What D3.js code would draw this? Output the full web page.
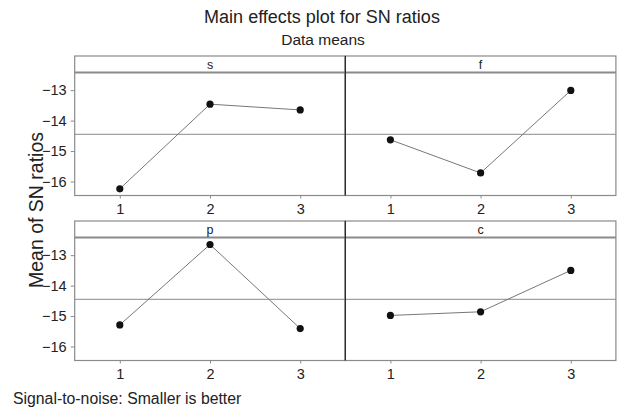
<!DOCTYPE html>
<html>
<head>
<meta charset="utf-8">
<script src="https://cdn.jsdelivr.net/npm/d3@7"></script>
<style>
  body { margin: 0; background: #fff; }
  text { font-family: "Liberation Sans", Arial, Helvetica, sans-serif; fill: #222; }
</style>
</head>
<body>
<div id="chart"></div>
<script>
// factor names and their levels
var factors = ["s", "f", "p", "c"];
var levels = [1, 2, 3];

// mean SN ratio for each level
var sMeans = [-16.24, -13.46, -13.65];
var fMeans = [-14.63, -15.72, -13.01];
var pMeans = [-15.29, -12.65, -15.41];
var cMeans = [-14.98, -14.86, -13.50];

var yTicks = [-13, -14, -15, -16];

var allMeans = [sMeans, fMeans, pMeans, cMeans];

var width = 620,
  height = 407,
  left = 74.7,
  panelW = 270.6,
  panelTops = [56, 221],
  stripH = 16.5,
  plotH = 123,
  grey = "#8a8a8a";

var grandMean = d3.mean([].concat(sMeans, fMeans, pMeans, cMeans));

var svg = d3.select("#chart").append("svg")
  .attr("width", width)
  .attr("height", height);

svg.append("text")
  .attr("x", 322).attr("y", 23)
  .attr("text-anchor", "middle")
  .style("font-size", "18px")
  .text("Main effects plot for SN ratios");

svg.append("text")
  .attr("x", 323).attr("y", 44.5)
  .attr("text-anchor", "middle")
  .style("font-size", "15.5px")
  .text("Data means");

svg.append("text")
  .attr("transform", "translate(43,210) rotate(-90)")
  .attr("text-anchor", "middle")
  .style("font-size", "19.5px")
  .text("Mean of SN ratios");

svg.append("text")
  .attr("x", 13).attr("y", 404)
  .style("font-size", "15.8px")
  .text("Signal-to-noise: Smaller is better");

factors.forEach(function(name, i) {
  var col = i % 2,
    row = Math.floor(i / 2),
    x0 = left + col * panelW,
    top = panelTops[row],
    plotTop = top + stripH,
    bottom = plotTop + plotH;

  var x = d3.scaleLinear().domain([0.5, 3.5]).range([x0, x0 + panelW]);
  var y = d3.scaleLinear().domain([-16.46, -12.42]).range([bottom, plotTop]);

  var g = svg.append("g");

  // frame
  g.append("rect")
    .attr("x", x0).attr("y", top)
    .attr("width", panelW).attr("height", bottom - top)
    .attr("fill", "none")
    .attr("stroke", grey)
    .attr("stroke-width", 1.2);

  // strip
  g.append("line")
    .attr("x1", x0).attr("x2", x0 + panelW)
    .attr("y1", plotTop).attr("y2", plotTop)
    .attr("stroke", grey)
    .attr("stroke-width", 1.8);

  g.append("text")
    .attr("x", x0 + panelW / 2).attr("y", top + 13)
    .attr("text-anchor", "middle")
    .style("font-size", "12.5px")
    .text(name);

  // grand mean reference
  g.append("line")
    .attr("x1", x0).attr("x2", x0 + panelW)
    .attr("y1", y(grandMean)).attr("y2", y(grandMean))
    .attr("stroke", grey)
    .attr("stroke-width", 1);

  // x axis
  var xAxis = g.append("g")
    .attr("transform", "translate(0," + bottom + ")")
    .call(d3.axisBottom(x).tickValues(levels).tickSize(3).tickPadding(5)
      .tickFormat(d3.format("d")));
  xAxis.select(".domain").remove();
  xAxis.selectAll("line").attr("stroke", grey);
  xAxis.selectAll("text")
    .style("font-size", "14.5px")
    .style("font-family", "\"Liberation Sans\", Arial, sans-serif")
    .attr("fill", "#222");

  if (col === 0) {
    var yAxis = g.append("g")
      .attr("transform", "translate(" + x0 + ",0)")
      .call(d3.axisLeft(y).tickValues(yTicks).tickSize(4).tickPadding(4)
        .tickFormat(function(d) { return "\u2212" + Math.abs(d); }));
    yAxis.select(".domain").remove();
    yAxis.selectAll("line").attr("stroke", grey);
    yAxis.selectAll("text")
      .style("font-size", "14.5px")
      .style("font-family", "\"Liberation Sans\", Arial, sans-serif")
      .attr("fill", "#222");
  }

  var pts = levels.map(function(l, j) { return [l, allMeans[i][j]]; });

  g.append("path")
    .datum(pts)
    .attr("fill", "none")
    .attr("stroke", "#777")
    .attr("stroke-width", 1)
    .attr("d", d3.line().x(function(d) { return x(d[0]); }).y(function(d) { return y(d[1]); }));

  g.selectAll("circle")
    .data(pts)
    .enter().append("circle")
    .attr("cx", function(d) { return x(d[0]); })
    .attr("cy", function(d) { return y(d[1]); })
    .attr("r", 3.6)
    .attr("fill", "#111");
});

// dark divider between the two columns
svg.append("line")
  .attr("x1", left + panelW).attr("x2", left + panelW)
  .attr("y1", panelTops[0]).attr("y2", panelTops[0] + stripH + plotH)
  .attr("stroke", "#222").attr("stroke-width", 1.2);
svg.append("line")
  .attr("x1", left + panelW).attr("x2", left + panelW)
  .attr("y1", panelTops[1]).attr("y2", panelTops[1] + stripH + plotH)
  .attr("stroke", "#222").attr("stroke-width", 1.2);
</script>
</body>
</html>
